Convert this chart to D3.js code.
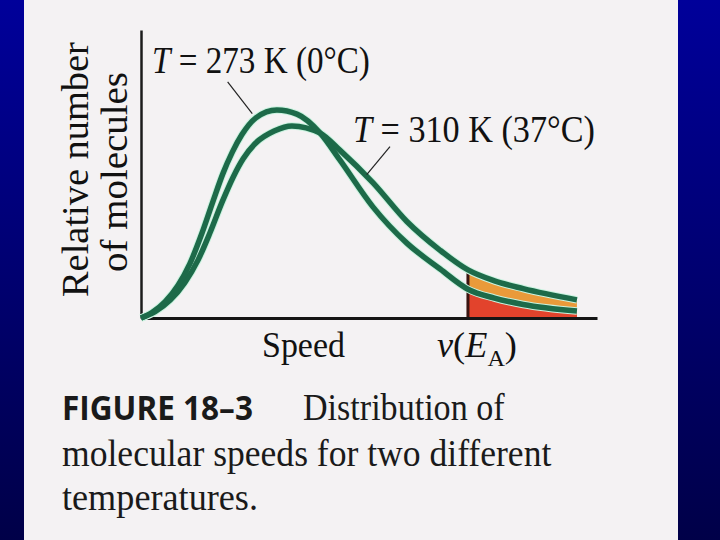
<!DOCTYPE html>
<html><head><meta charset="utf-8">
<script src="https://cdn.jsdelivr.net/npm/d3@7"></script>
<style>body{margin:0;background:#fff}svg{display:block}</style>
</head><body>
<svg id="c" width="720" height="540"></svg>
<script>
// ---- data (arbitrary units) ----
const coldSpeed = [0, 2.4, 5.3, 8.1, 10.7, 13.4, 15.8, 18.0, 20.0, 22.1, 25.2, 29.8, 34.2, 39.3, 43.6, 50.9, 58.3, 65.6, 71.7, 77.5, 83.8, 95.6];
const coldValue = [0, 1.9, 5.7, 11.3, 18.8, 29.6, 40.6, 50.3, 57.5, 63.6, 69.5, 72.2, 70.8, 64.2, 54.9, 38.5, 26.0, 17.0, 10.0, 6.9, 4.7, 2.4];
const hotSpeed  = [0, 3.1, 6.4, 9.6, 12.5, 15.1, 17.8, 20.2, 22.4, 25.0, 29.2, 33.1, 39.3, 43.6, 50.9, 58.3, 65.6, 71.7, 77.5, 83.8, 95.6];
const hotValue  = [0, 2.2, 6.2, 12.3, 20.1, 29.5, 40.3, 48.9, 55.3, 60.5, 64.9, 66.7, 64.2, 58.3, 46.9, 33.5, 23.5, 16.7, 12.9, 10.2, 6.3];
const seriesLabels = ["273 K (0°C)", "310 K (37°C)"];
const activationSpeed = 71.7;   // v(E_A)
const xAxisLabels = ["Speed"];
const yAxisLabels = ["Relative number", "of molecules"];
const captionBold = "FIGURE 18–3";
const captionLines = ["Distribution of", "molecular speeds for two different", "temperatures."];

const cold = coldSpeed.map((s,i)=>({s, v:coldValue[i]}));
const hot  = hotSpeed.map((s,i)=>({s, v:hotValue[i]}));

const svg = d3.select("#c");
const defs = svg.append("defs");
const g1 = defs.append("linearGradient").attr("id","blue").attr("x1",0).attr("y1",0).attr("x2",0).attr("y2",1);
g1.append("stop").attr("offset","0%").attr("stop-color","#00009a");
g1.append("stop").attr("offset","100%").attr("stop-color","#000048");

svg.append("rect").attr("width",720).attr("height",540).attr("fill","url(#blue)");
svg.append("rect").attr("x",24).attr("width",654).attr("height",540).attr("fill","#f4f2f3");

const x = d3.scaleLinear().domain([0,100]).range([141,597]);
const y = d3.scaleLinear().domain([0,100]).range([318,30]);

const curve = d3.curveMonotoneX;
const line = d3.line().x(d=>x(d.s)).y(d=>y(d.v)).curve(curve);
const area = d3.area().x(d=>x(d.s)).y0(y(0)).y1(d=>y(d.v)).curve(curve);

// clip for tail region
const xEnd = d3.max(hotSpeed);
defs.append("clipPath").attr("id","tail").append("rect")
  .attr("x",x(activationSpeed)).attr("y",0)
  .attr("width",x(xEnd)-x(activationSpeed)).attr("height",y(0));
defs.append("clipPath").attr("id","underHot").append("path").attr("d",area(hot));

svg.append("path").attr("d",area(hot)).attr("fill","#e99a3a").attr("clip-path","url(#tail)");
svg.append("path").attr("d",area(cold)).attr("fill","#e2432c").attr("clip-path","url(#tail)");
svg.append("line").attr("x1",x(activationSpeed)).attr("x2",x(activationSpeed))
  .attr("y1",y(0)).attr("y2",y(100)).attr("stroke","#3a1410").attr("stroke-width",3)
  .attr("clip-path","url(#underHot)");

// axes
const xAxis = svg.append("g").attr("transform",`translate(0,${y(0)})`)
  .call(d3.axisBottom(x).tickValues([]).tickSizeOuter(0));
xAxis.select(".domain").attr("stroke","#151515").attr("stroke-width",3);
const yAxis = svg.append("g").attr("transform",`translate(${x(0)},0)`)
  .call(d3.axisLeft(y).tickValues([]).tickSizeOuter(0));
yAxis.select(".domain").attr("stroke","#1c1c1c").attr("stroke-width",2.5);

// curves
[hot, cold].forEach(data=>{
  svg.append("path").attr("d",line(data)).attr("fill","none")
    .attr("stroke","#c9f3df").attr("stroke-width",7.5);
});
[hot, cold].forEach(data=>{
  svg.append("path").attr("d",line(data)).attr("fill","none")
    .attr("stroke","#1d6a49").attr("stroke-width",5.5);
});

// helper: place text and stretch to a target width
function fitText(sel, left, baseline, width, rotate){
  const w = sel.node().getBBox().width;
  const sx = width / w;
  if(rotate){
    sel.attr("transform",`translate(${baseline},${left}) rotate(-90) scale(${sx},1)`);
  } else {
    sel.attr("transform",`translate(${left},${baseline}) scale(${sx},1)`);
  }
}
const serif = "'Liberation Serif','Times New Roman',serif";

// series labels
function tLabel(label, left, baseline, width){
  const t = svg.append("text").attr("font-family",serif).attr("font-size",37).attr("fill","#111");
  t.append("tspan").attr("font-style","italic").text("T");
  t.append("tspan").text(" = " + label);
  fitText(t, left, baseline, width);
}
tLabel(seriesLabels[0], 152, 73, 218);
tLabel(seriesLabels[1], 353, 142, 242);

// leader lines (from label to curve)
svg.append("line").attr("x1",x(19.0)).attr("y1",y(82)).attr("x2",x(24.4)).attr("y2",y(71))
  .attr("stroke","#222").attr("stroke-width",1.2);
svg.append("line").attr("x1",x(54.6)).attr("y1",y(59.5)).attr("x2",x(49.5)).attr("y2",y(49.8))
  .attr("stroke","#222").attr("stroke-width",1.2);

// y axis labels (rotated)
const yl1 = svg.append("text").attr("font-family",serif).attr("font-size",37).attr("fill","#111").text(yAxisLabels[0]);
fitText(yl1, 297, 88, 255, true);
const yl2 = svg.append("text").attr("font-family",serif).attr("font-size",37).attr("fill","#111").text(yAxisLabels[1]);
fitText(yl2, 272, 127, 200, true);

// x labels
const sp = svg.append("text").attr("font-family",serif).attr("font-size",36).attr("fill","#111").text(xAxisLabels[0]);
fitText(sp, 262, 357, 83);
const ve = svg.append("text").attr("font-family",serif).attr("font-size",36).attr("fill","#111");
ve.append("tspan").attr("font-style","italic").text("v");
ve.append("tspan").text("(");
ve.append("tspan").attr("font-style","italic").text("E");
ve.append("tspan").attr("font-size",24).attr("dy",9).text("A");
ve.append("tspan").attr("dy",-9).text(")");
fitText(ve, 437, 357, 80);

// caption
const cb = svg.append("text").attr("font-family","'Open Sans','DejaVu Sans',sans-serif")
  .attr("font-weight","bold").attr("font-size",34).attr("fill","#1a1a1a").text(captionBold);
fitText(cb, 62, 420, 191);
const c1 = svg.append("text").attr("font-family",serif).attr("font-size",38).attr("fill","#1a1a1a").text(captionLines[0]);
fitText(c1, 303, 420, 202);
const c2 = svg.append("text").attr("font-family",serif).attr("font-size",38).attr("fill","#1a1a1a").text(captionLines[1]);
fitText(c2, 62, 466, 490);
const c3 = svg.append("text").attr("font-family",serif).attr("font-size",38).attr("fill","#1a1a1a").text(captionLines[2]);
fitText(c3, 62, 510, 196);
</script>
</body></html>
